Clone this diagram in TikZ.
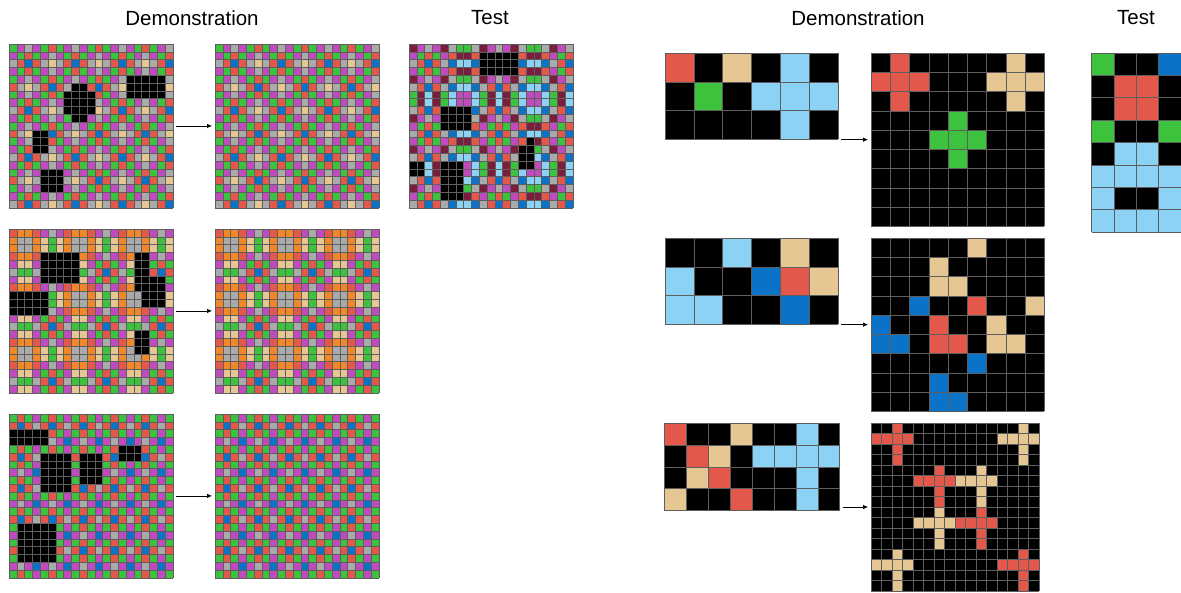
\documentclass[tikz,border=0pt]{standalone}
\usepackage{fontspec}
\setmainfont{Liberation Sans}
\usetikzlibrary{positioning,arrows.meta,calc}

\definecolor{arcK}{HTML}{000000}
\definecolor{arcB}{HTML}{0B73C7}
\definecolor{arcR}{HTML}{E4574B}
\definecolor{arcG}{HTML}{3CC23C}
\definecolor{arcT}{HTML}{E6C692}
\definecolor{arcY}{HTML}{AAAAAA}
\definecolor{arcM}{HTML}{C04BBF}
\definecolor{arcO}{HTML}{F2872A}
\definecolor{arcL}{HTML}{8CD2F4}
\definecolor{arcN}{HTML}{7B1E3D}
\definecolor{arcline}{HTML}{5E5E5E}
% palette by value
\colorlet{arc0}{arcB}\colorlet{arc1}{arcR}\colorlet{arc2}{arcG}
\colorlet{arc3}{arcT}\colorlet{arc4}{arcY}\colorlet{arc5}{arcM}
\colorlet{arc6}{arcO}\colorlet{arc7}{arcL}\colorlet{arc8}{arcN}

% 21x21 pattern grid: node, cell, modulus, centre, black holes
\newcommand\arcpattern[5]{%
  \begin{scope}[shift={(#1.north west)}]
    \foreach \ii in {0,...,20}{
      \foreach \jj in {0,...,20}{
        \pgfmathtruncatemacro\vv{mod((\ii-#4)*(\ii-#4)+(\jj-#4)*(\jj-#4),#3)}
        \fill[fill=arc\vv] (\jj*#2,-\ii*#2) rectangle ++(#2,-#2);
      }}
    \foreach \ca/\ra/\cb/\rb in {#5}
      \fill[black] (\ca*#2,-\ra*#2) rectangle ({(\cb+1)*#2},{-(\rb+1)*#2});
    \draw[cellline,step=#2pt] (0,0) grid ({21*#2+0.01},{-21*#2-0.01});
  \end{scope}}

% small grid given row by row: node, cell, cols, rows, row list
\newcommand\arcrows[5]{%
  \begin{scope}[shift={(#1.north west)}]
    \foreach \row [count=\ii from 0] in {#5}
      \foreach \col [count=\jj from 0] in \row
        \fill[fill=arc\col] (\jj*#2,-\ii*#2) rectangle ++(#2,-#2);
    \draw[cellline,step=#2pt] (0,0) grid ({#3*#2+0.01},{-#4*#2-0.01});
  \end{scope}}

% output grid of blocks: node, cell, block size, blocks, shape
\newcommand\arcblocks[5]{%
  \begin{scope}[shift={(#1.north west)}]
    \fill[black] (0,0) rectangle ({#3*#3*#2},{-#3*#3*#2});
    \foreach \bi/\bj/\col in {#4}
      \foreach \di/\dj in {#5}
        \fill[fill=arc\col] ({(#3*\bj+\dj)*#2},{-(#3*\bi+\di)*#2}) rectangle ++(#2,-#2);
    \draw[cellline,step=#2pt] (0,0) grid ({#3*#3*#2+0.01},{-#3*#3*#2-0.01});
  \end{scope}}

\begin{document}
\begin{tikzpicture}[x=1pt,y=1pt,
  gridbox/.style={inner sep=0pt,outer sep=0pt,anchor=north west},
  cellline/.style={draw=arcline,line width=0.5pt},
  arr/.style={-{Latex[length=5pt,width=4.5pt]},line width=0.7pt,
    shorten <=3pt,shorten >=3pt},
  title/.style={font=\fontsize{20.5}{24}\selectfont}]
  \useasboundingbox (0,0) rectangle (1181,-592);

  % titles
  \node[title] (demoL) at (192,-18) {Demonstration};
  \node[title] (testL) at (490,-18) {Test};
  \node[title] (demoR) at (858,-18) {Demonstration};
  \node[title] (testR) at (1136,-18) {Test};

  % left task
  \node[gridbox,minimum width=163.8pt,minimum height=163.8pt] (in1) at (9,-44) {};
  \node[gridbox,minimum width=163.8pt,minimum height=163.8pt] (out1) at (215,-44) {};
  \node[gridbox,minimum width=163.8pt,minimum height=163.8pt] (in2) at (9,-229) {};
  \node[gridbox,minimum width=163.8pt,minimum height=163.8pt] (out2) at (215,-229) {};
  \node[gridbox,minimum width=163.8pt,minimum height=163.8pt] (in3) at (9,-414) {};
  \node[gridbox,minimum width=163.8pt,minimum height=163.8pt] (out3) at (215,-414) {};
  \node[gridbox,minimum width=163.8pt,minimum height=163.8pt] (tin1) at (409,-44) {};

  \arcpattern{in1}{7.8}{6}{2}{15/4/19/6,8/5/9/5,7/6/10/8,8/9/9/9,3/11/4/13,4/16/6/18}
  \arcpattern{out1}{7.8}{6}{2}{}
  \arcpattern{in2}{7.8}{7}{5}{4/3/8/6,0/8/4/10,16/3/17/7,18/6/19/9,17/8/17/9,16/13/17/15}
  \arcpattern{out2}{7.8}{7}{5}{}
  \arcpattern{in3}{7.8}{8}{1}{0/2/4/3,4/5/7/9,9/5/11/8,14/4/16/5,1/14/5/18}
  \arcpattern{out3}{7.8}{8}{1}{}
  \arcpattern{tin1}{7.8}{9}{2}{9/1/13/3,4/8/7/10,15/12/15/12,14/13/15/15,0/15/1/16,4/15/6/19}

  \foreach \k in {1,2,3}
    \draw[arr] (in\k) -- (out\k);

  % right task
  \node[gridbox,minimum width=172.8pt,minimum height=86.4pt] (in4) at (665,-53) {};
  \node[gridbox,minimum width=173.25pt,minimum height=173.25pt] (out4) at (871,-53) {};
  \node[gridbox,minimum width=172.8pt,minimum height=86.4pt] (in5) at (665,-238) {};
  \node[gridbox,minimum width=173.25pt,minimum height=173.25pt] (out5) at (871,-238) {};
  \node[gridbox,minimum width=175.2pt,minimum height=87.6pt] (in6) at (664.5,-423) {};
  \node[gridbox,minimum width=168pt,minimum height=168pt] (out6) at (871,-423) {};
  \node[gridbox,minimum width=89.4pt,minimum height=178.8pt] (tin2) at (1091.5,-53) {};

  \arcrows{in4}{28.8}{6}{3}{{R,K,T,K,L,K},{K,G,K,L,L,L},{K,K,K,K,L,K}}
  \arcblocks{out4}{19.25}{3}{0/0/R,0/2/T,1/1/G}{0/1,1/0,1/1,1/2,2/1}
  \arcrows{in5}{28.8}{6}{3}{{K,K,L,K,T,K},{L,K,K,B,R,T},{L,L,K,K,B,K}}
  \arcblocks{out5}{19.25}{3}{0/1/T,1/0/B,1/1/R,1/2/T,2/1/B}{0/2,1/0,2/0,2/1}
  \arcrows{in6}{21.9}{8}{4}{{R,K,K,T,K,K,L,K},{K,R,T,K,L,L,L,L},{K,T,R,K,K,K,L,K},{T,K,K,R,K,K,L,K}}
  \arcblocks{out6}{10.5}{4}{0/0/R,0/3/T,1/1/R,1/2/T,2/1/T,2/2/R,3/0/T,3/3/R}{0/2,1/0,1/1,1/2,1/3,2/2,3/2}
  \arcrows{tin2}{22.35}{4}{8}{{G,K,K,B},{K,R,R,K},{K,R,R,K},{G,K,K,G},{K,L,L,K},{L,L,L,L},{L,K,K,L},{L,L,L,L}}

  \foreach \k in {4,5,6}
    \draw[arr] (in\k.east |- out\k.west) -- (out\k.west);
\end{tikzpicture}
\end{document}
